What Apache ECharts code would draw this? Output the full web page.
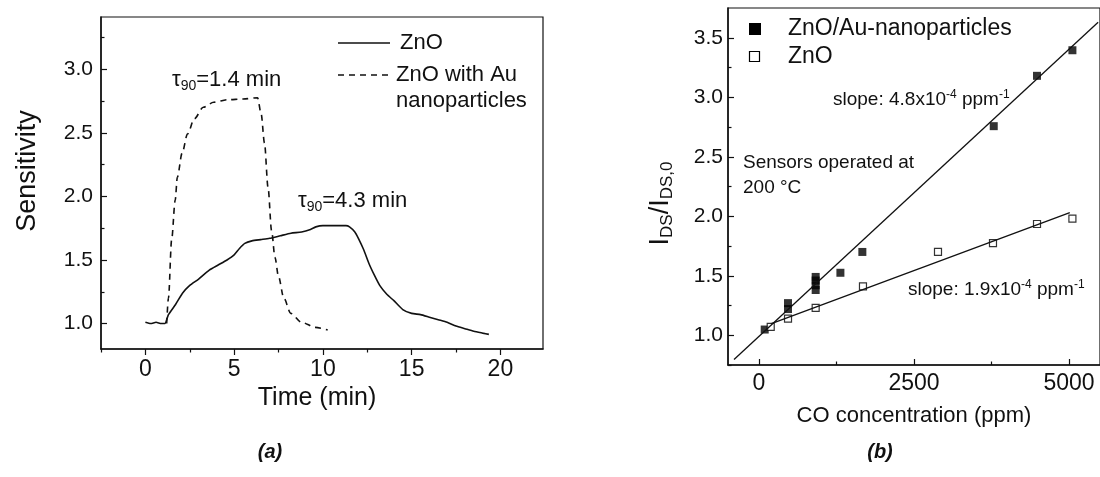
<!DOCTYPE html>
<html>
<head>
<meta charset="utf-8">
<script src="https://cdn.jsdelivr.net/npm/echarts@6/dist/echarts.min.js"></script>
<style>
  html, body { margin: 0; padding: 0; background: #fff; }
  #chart { width: 1100px; height: 477px; }
</style>
</head>
<body>
<div id="chart"></div>
<script>
// (a) response curves
const timeZnO = [0, 0.3, 0.6, 0.9, 1.1, 1.3, 1.7, 2.1, 2.5, 3.0, 3.6, 4.1, 4.6, 5.0, 5.3, 5.6, 6.0, 6.5, 7.0, 7.6, 8.2, 8.8, 9.3, 9.6, 10.0, 10.4, 10.9, 11.3, 11.5, 11.8, 12.0, 12.3, 12.6, 12.9, 13.2, 13.6, 14.0, 14.5, 15.0, 15.5, 16.0, 16.5, 17.0, 17.5, 18.0, 18.5, 19.0, 19.35]
const sensZnO = [1.01, 1.00, 1.01, 1.00, 1.00, 1.07, 1.15, 1.24, 1.30, 1.35, 1.42, 1.46, 1.50, 1.54, 1.59, 1.63, 1.65, 1.66, 1.67, 1.69, 1.71, 1.72, 1.74, 1.76, 1.77, 1.77, 1.77, 1.77, 1.76, 1.72, 1.67, 1.58, 1.47, 1.38, 1.30, 1.23, 1.18, 1.11, 1.08, 1.07, 1.05, 1.03, 1.01, 0.98, 0.96, 0.94, 0.925, 0.915]
const timeAu = [1.2, 1.3, 1.48, 1.68, 1.8, 2.07, 2.37, 2.76, 3.26, 3.85, 4.64, 5.5, 6.32, 6.52, 6.71, 6.91, 7.11, 7.3, 7.5, 7.8, 8.19, 8.79, 9.58, 10.27]
const sensAu = [1.0, 1.2, 1.66, 1.97, 2.15, 2.34, 2.49, 2.61, 2.70, 2.74, 2.76, 2.765, 2.775, 2.65, 2.42, 2.07, 1.73, 1.52, 1.37, 1.20, 1.08, 1.01, 0.97, 0.95]

// (b) calibration points
const coAu = [92, 468, 468, 914, 914, 914, 914, 1313, 1667, 3786, 4484, 5055]
const ratioAu = [1.048, 1.22, 1.27, 1.38, 1.42, 1.46, 1.49, 1.525, 1.70, 2.757, 3.18, 3.395]
const coZnO = [189, 468, 914, 1677, 2887, 3774, 4484, 5055]
const ratioZnO = [1.07, 1.14, 1.23, 1.41, 1.70, 1.775, 1.935, 1.98]
// fitted lines, end points
const fitAuX = [-403, 5470]
const fitAuY = [0.796, 3.63]
const fitZnOX = [200, 5013]
const fitZnOY = [1.098, 2.03]

// ticks
const aMajorX = [0, 5, 10, 15, 20]
const aMinorX = [-2.5, 2.5, 7.5, 12.5, 17.5]
const aMajorY = [1.0, 1.5, 2.0, 2.5, 3.0]
const aMinorY = [1.25, 1.75, 2.25, 2.75, 3.25]
const bMajorX = [0, 2500, 5000]
const bMinorX = [1250, 3750]
const bMajorY = [1.0, 1.5, 2.0, 2.5, 3.0, 3.5]
const bMinorY = [0.75, 1.25, 1.75, 2.25, 2.75, 3.25]

const FONT = 'Liberation Sans, Arial, sans-serif'
const INK = '#111'

function zip(xs, ys) {
  return xs.map((x, i) => [x, ys[i]])
}

function fmtTick(v) {
  return v >= 100 ? String(v) : (Number.isInteger(v) && v >= 5 ? String(v) : (v < 5 && v % 1 === 0 && v > 0 ? v.toFixed(1) : String(v)))
}

function mainAxis(grid, min, max, ticks, opts) {
  return Object.assign({
    type: 'value', gridIndex: grid, min: min, max: max,
    axisLine: { show: true, onZero: false, lineStyle: { color: INK, width: 1.5 } },
    axisTick: { show: true, customValues: ticks, inside: opts.inside, length: 6, lineStyle: { color: INK, width: 1.2 } },
    axisLabel: { customValues: ticks, formatter: opts.fmt, fontSize: opts.size, color: INK, fontFamily: FONT, margin: opts.margin },
    splitLine: { show: false }
  }, opts.extra || {})
}

function minorAxis(grid, min, max, ticks, inside, pos) {
  return {
    type: 'value', gridIndex: grid, min: min, max: max, position: pos,
    axisLine: { show: false, onZero: false },
    axisTick: { show: true, customValues: ticks, inside: inside, length: 3.5, lineStyle: { color: INK, width: 1.2 } },
    axisLabel: { show: false },
    splitLine: { show: false }
  }
}

const chart = echarts.init(document.getElementById('chart'))

const option = {
  backgroundColor: '#fff',
  animation: false,
  grid: [
    { left: 101, top: 17, width: 442, height: 332, show: true, borderColor: INK, borderWidth: 1.2 },
    { left: 728, top: 8, width: 372, height: 357, show: true, borderColor: INK, borderWidth: 1.2 }
  ],
  xAxis: [
    mainAxis(0, -2.5, 22.4, aMajorX, {
      inside: false, size: 23, margin: 9, fmt: v => String(v),
      extra: {
        position: 'bottom',
        name: 'Time (min)', nameLocation: 'middle', nameGap: 34,
        nameTextStyle: { fontSize: 25, color: INK, fontFamily: FONT, padding: [0, 10, 0, 0] }
      }
    }),
    minorAxis(0, -2.5, 22.4, aMinorX, false, 'bottom'),
    mainAxis(1, -500, 5500, bMajorX, {
      inside: true, size: 23, margin: 7, fmt: v => String(v),
      extra: {
        position: 'bottom',
        name: 'CO concentration (ppm)', nameLocation: 'middle', nameGap: 40,
        nameTextStyle: { fontSize: 22, color: INK, fontFamily: FONT }
      }
    }),
    minorAxis(1, -500, 5500, bMinorX, true, 'bottom')
  ],
  yAxis: [
    mainAxis(0, 0.8, 3.41, aMajorY, {
      inside: true, size: 21, margin: 8, fmt: v => v.toFixed(1),
      extra: {
        position: 'left',
        name: 'Sensitivity', nameLocation: 'middle', nameGap: 60, nameRotate: 90,
        nameTextStyle: { fontSize: 27, color: INK, fontFamily: FONT, padding: [0, 0, 0, 24] }
      }
    }),
    minorAxis(0, 0.8, 3.41, aMinorY, true, 'left'),
    mainAxis(1, 0.75, 3.75, bMajorY, {
      inside: true, size: 21, margin: 5, fmt: v => v.toFixed(1),
      extra: {
        position: 'left',
        name: '{i|I}{s|DS}{i|/I}{s|DS,0}', nameLocation: 'middle', nameGap: 52, nameRotate: 90,
        nameTextStyle: {
          color: INK, fontFamily: FONT, padding: [0, 34, 0, 0],
          rich: {
            i: { fontSize: 27, color: INK, fontFamily: FONT, lineHeight: 30 },
            s: { fontSize: 17, color: INK, fontFamily: FONT, lineHeight: 17, verticalAlign: 'bottom' }
          }
        }
      }
    }),
    minorAxis(1, 0.75, 3.75, bMinorY, true, 'left')
  ],
  series: [
    {
      name: 'ZnO', type: 'line', xAxisIndex: 0, yAxisIndex: 0,
      data: zip(timeZnO, sensZnO), showSymbol: false, smooth: 0.2,
      lineStyle: { color: INK, width: 1.6 }
    },
    {
      name: 'ZnO with Au nanoparticles', type: 'line', xAxisIndex: 0, yAxisIndex: 0,
      data: zip(timeAu, sensAu), showSymbol: false, smooth: 0.3, smoothMonotone: 'x',
      lineStyle: { color: INK, width: 1.6, type: [6, 5] }
    },
    {
      name: 'fit Au', type: 'line', xAxisIndex: 2, yAxisIndex: 2,
      data: zip(fitAuX, fitAuY), showSymbol: false,
      lineStyle: { color: INK, width: 1.3 }
    },
    {
      name: 'fit ZnO', type: 'line', xAxisIndex: 2, yAxisIndex: 2,
      data: zip(fitZnOX, fitZnOY), showSymbol: false,
      lineStyle: { color: INK, width: 1.3 }
    },
    {
      name: 'ZnO/Au-nanoparticles', type: 'scatter', xAxisIndex: 2, yAxisIndex: 2,
      data: zip(coAu, ratioAu), symbol: 'rect', symbolSize: 8,
      itemStyle: { color: '#000' }
    },
    {
      name: 'ZnO ', type: 'scatter', xAxisIndex: 2, yAxisIndex: 2,
      data: zip(coZnO, ratioZnO), symbol: 'rect', symbolSize: 7,
      itemStyle: { color: '#fff', borderColor: '#000', borderWidth: 1.2 }
    }
  ],
  graphic: [
    // legend (a)
    { type: 'line', shape: { x1: 338, y1: 43, x2: 390, y2: 43 }, style: { stroke: INK, lineWidth: 1.6 } },
    { type: 'text', x: 400, y: 43, style: { text: 'ZnO', font: '22px ' + FONT, fill: INK, verticalAlign: 'middle' } },
    { type: 'line', shape: { x1: 338, y1: 75, x2: 392, y2: 75 }, style: { stroke: INK, lineWidth: 1.6, lineDash: [6, 5] } },
    { type: 'text', x: 396, y: 75, style: { text: 'ZnO with Au', font: '22px ' + FONT, fill: INK, verticalAlign: 'middle' } },
    { type: 'text', x: 396, y: 101, style: { text: 'nanoparticles', font: '22px ' + FONT, fill: INK, verticalAlign: 'middle' } },
    // tau labels
    {
      type: 'text', x: 172, y: 80,
      style: {
        text: '{t|τ}{s|90}{t|=1.4 min}', verticalAlign: 'middle', fill: INK,
        rich: {
          t: { fontSize: 22, fontFamily: FONT, fill: INK, lineHeight: 26 },
          s: { fontSize: 14, fontFamily: FONT, fill: INK, lineHeight: 14, verticalAlign: 'bottom' }
        }
      }
    },
    {
      type: 'text', x: 298, y: 201,
      style: {
        text: '{t|τ}{s|90}{t|=4.3 min}', verticalAlign: 'middle', fill: INK,
        rich: {
          t: { fontSize: 22, fontFamily: FONT, fill: INK, lineHeight: 26 },
          s: { fontSize: 14, fontFamily: FONT, fill: INK, lineHeight: 14, verticalAlign: 'bottom' }
        }
      }
    },
    // legend (b)
    { type: 'rect', shape: { x: 749, y: 23, width: 12, height: 12 }, style: { fill: '#000' } },
    { type: 'text', x: 788, y: 29, style: { text: 'ZnO/Au-nanoparticles', font: '23px ' + FONT, fill: INK, verticalAlign: 'middle' } },
    { type: 'rect', shape: { x: 749.5, y: 51.5, width: 10, height: 10 }, style: { fill: '#fff', stroke: '#000', lineWidth: 1.2 } },
    { type: 'text', x: 788, y: 57, style: { text: 'ZnO', font: '23px ' + FONT, fill: INK, verticalAlign: 'middle' } },
    // slope notes
    {
      type: 'text', x: 833, y: 100,
      style: {
        text: '{n|slope: 4.8x10}{p|-4}{n| ppm}{p|-1}', verticalAlign: 'middle', fill: INK,
        rich: {
          n: { fontSize: 19, fontFamily: FONT, fill: INK, lineHeight: 22 },
          p: { fontSize: 12, fontFamily: FONT, fill: INK, lineHeight: 12, verticalAlign: 'top' }
        }
      }
    },
    {
      type: 'text', x: 908, y: 290,
      style: {
        text: '{n|slope: 1.9x10}{p|-4}{n| ppm}{p|-1}', verticalAlign: 'middle', fill: INK,
        rich: {
          n: { fontSize: 19, fontFamily: FONT, fill: INK, lineHeight: 22 },
          p: { fontSize: 12, fontFamily: FONT, fill: INK, lineHeight: 12, verticalAlign: 'top' }
        }
      }
    },
    { type: 'text', x: 743, y: 163, style: { text: 'Sensors operated at', font: '19px ' + FONT, fill: INK, verticalAlign: 'middle' } },
    { type: 'text', x: 743, y: 188, style: { text: '200 °C', font: '19px ' + FONT, fill: INK, verticalAlign: 'middle' } },
    // panel tags
    { type: 'text', x: 270, y: 452, style: { text: '(a)', font: 'italic bold 20px ' + FONT, fill: INK, align: 'center', verticalAlign: 'middle' } },
    { type: 'text', x: 880, y: 452, style: { text: '(b)', font: 'italic bold 20px ' + FONT, fill: INK, align: 'center', verticalAlign: 'middle' } }
  ]
}

chart.setOption(option)
</script>
</body>
</html>
